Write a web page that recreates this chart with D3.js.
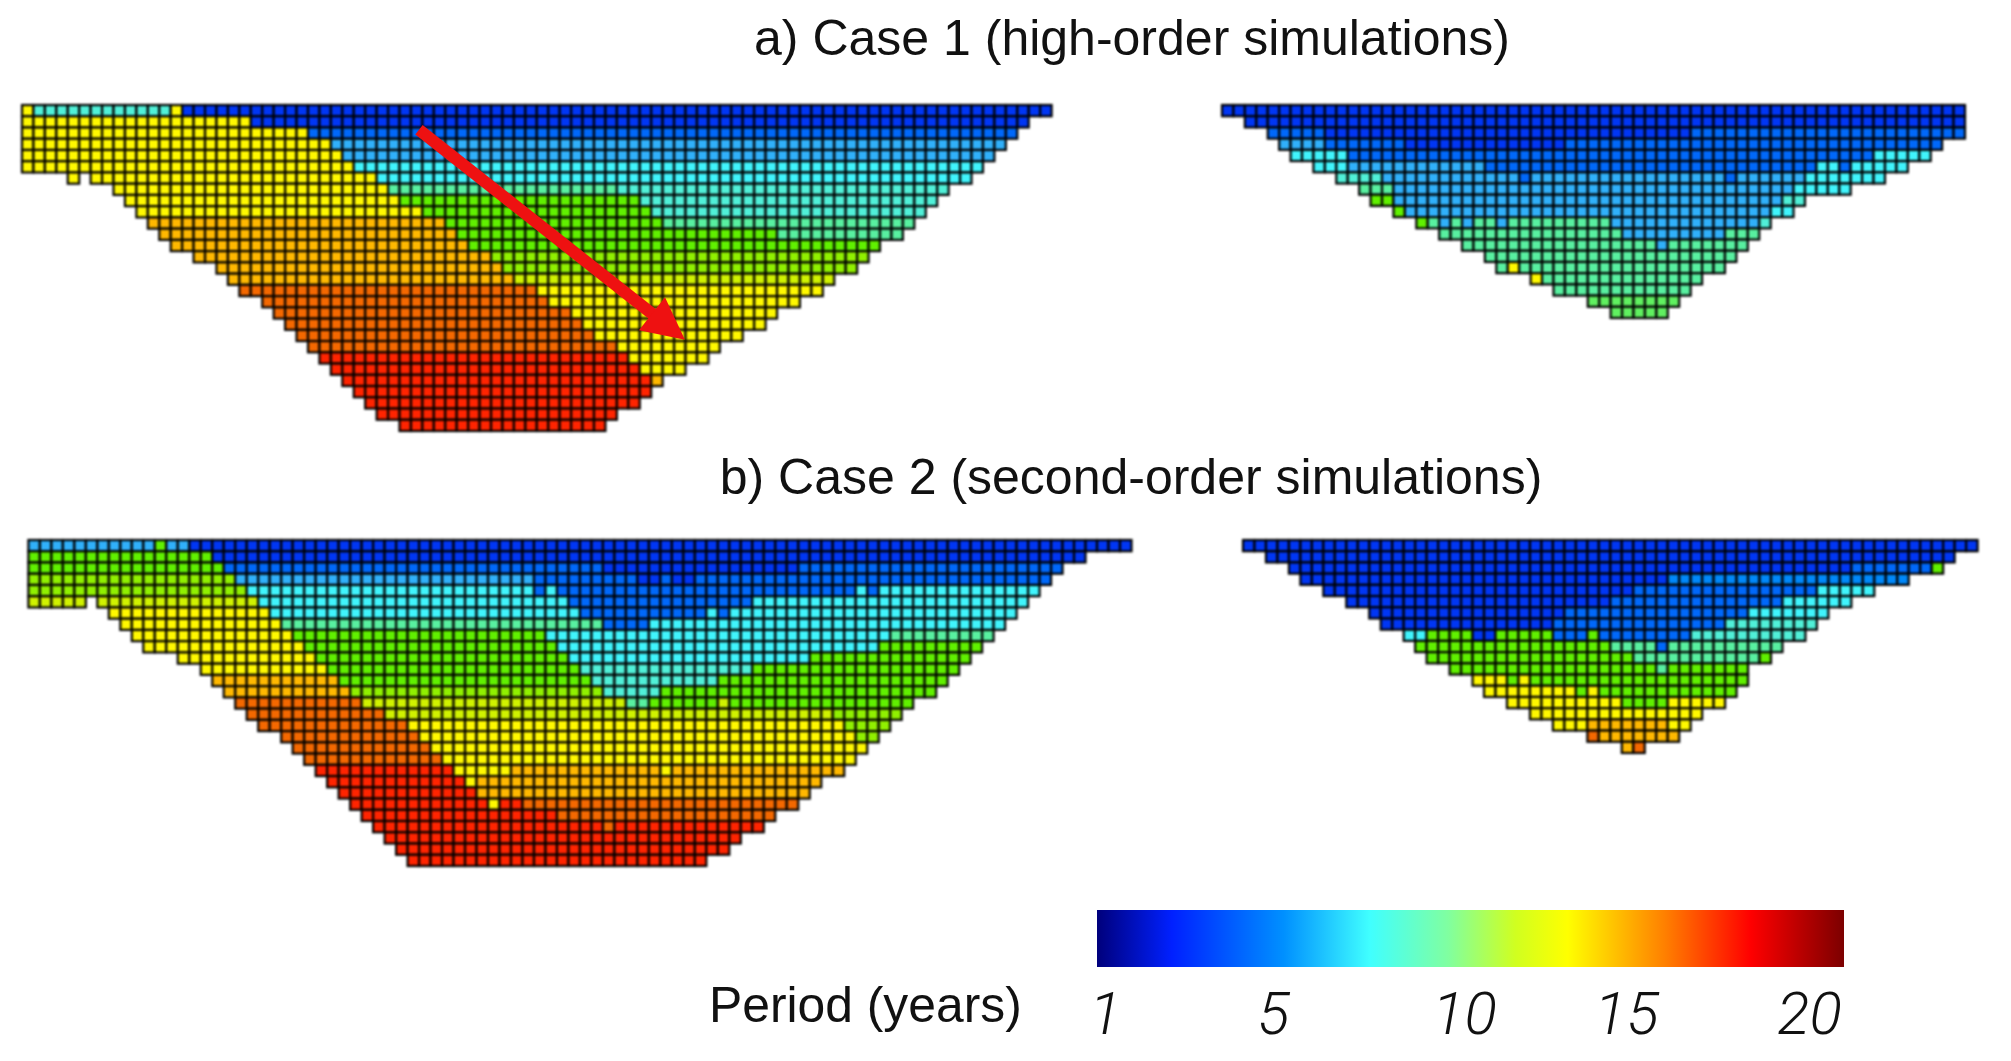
<!DOCTYPE html>
<meta charset="utf-8">
<head>
<title>Period (years)</title>
<script src="https://d3js.org/d3.v7.min.js"></script>
<style>
  html, body { margin: 0; background: #fff; }
  svg { display: block; }
  text { font-family: "Liberation Sans", sans-serif; fill: #111; }
  .cells { filter: blur(0.8px); }
  .soft { filter: blur(0.5px); }
</style>
</head>
<div id="chart"></div>
<script>
// period classes seen in the cells, and the colour each one is drawn with
var periods =      [3,         4,         5,         6,         7,         8,         9,         9.5,       10,        11,        12,        13,        14,        16,        18];
var periodColors = ["#0036f4", "#0068fa", "#0088fa", "#30b0fa", "#40f4fc", "#50f0d8", "#58f0a0", "#60f060", "#60f000", "#90f000", "#d0f200", "#fff800", "#ffb800", "#f46800", "#ff2400"];

// each row: first column, then period, end column, period, end column ... (period 0 = no cell)
var caseA_left = [
  [0, 13,1, 8,13, 13,14, 3,90],
  [0, 13,20, 3,88],
  [0, 13,25, 4,87],
  [0, 13,27, 6,86],
  [0, 13,28, 6,85],
  [0, 13,29, 7,84],
  [4, 13,5, 0,6, 13,31, 7,83],
  [8, 13,32, 9,52, 8,81],
  [9, 13,33, 10,54, 8,80],
  [10, 13,35, 10,55, 8,79],
  [11, 14,37, 10,56, 9,78],
  [12, 14,38, 10,66, 9,77],
  [13, 14,39, 10,75],
  [15, 14,41, 11,74],
  [17, 14,42, 11,73],
  [18, 14,43, 12,71],
  [19, 16,45, 13,70],
  [21, 16,46, 13,68],
  [22, 16,48, 13,66],
  [23, 16,49, 13,65],
  [24, 16,50, 13,63],
  [25, 16,52, 13,61],
  [26, 18,53, 13,60],
  [27, 18,54, 13,58],
  [28, 18,55, 14,56],
  [29, 18,55],
  [30, 18,54],
  [31, 18,52],
  [33, 18,51]
];
var caseA_right = [
  [0, 3,65],
  [2, 3,65],
  [4, 4,9, 3,41, 4,65],
  [5, 6,9, 4,16, 3,30, 4,63],
  [6, 7,11, 4,57, 7,62],
  [8, 7,11, 6,23, 4,52, 7,54, 4,55, 7,60],
  [10, 8,14, 6,26, 4,27, 6,44, 4,45, 6,51, 7,58],
  [12, 9,15, 6,50, 7,55],
  [13, 10,15, 6,49, 8,51],
  [15, 10,16, 6,48, 7,50],
  [17, 10,18, 9,19, 6,20, 9,21, 6,22, 9,24, 6,25, 9,34, 6,47, 8,48],
  [19, 9,35, 6,44, 9,47],
  [21, 9,38, 6,39, 9,46],
  [23, 9,45],
  [24, 9,25, 13,26, 9,44],
  [27, 13,28, 9,42],
  [29, 9,41],
  [32, 9.5,40],
  [34, 9.5,39]
];
var caseB_left = [
  [0, 6,11, 10,12, 6,14, 3,96],
  [0, 10,16, 3,92],
  [0, 10,17, 4,50, 3,67, 4,90],
  [0, 11,18, 6,44, 4,53, 3,55, 4,56, 3,58, 4,89],
  [0, 11,19, 7,44, 4,45, 7,46, 4,72, 7,73, 4,74, 7,88],
  [0, 12,5, 0,6, 12,20, 7,47, 4,63, 7,87],
  [7, 13,21, 7,48, 4,59, 7,60, 4,61, 7,86],
  [8, 13,22, 9,50, 4,54, 7,85],
  [9, 13,23, 10,45, 7,75, 9,84],
  [10, 13,24, 10,46, 7,74, 10,83],
  [13, 13,25, 10,47, 7,68, 10,82],
  [15, 13,26, 10,48, 8,63, 10,81],
  [16, 14,27, 10,49, 8,60, 10,80],
  [17, 14,28, 11,50, 8,55, 10,79],
  [18, 16,29, 12,52, 9,54, 10,60, 12,61, 10,77],
  [19, 16,31, 12,70, 11,76],
  [20, 16,33, 13,71, 11,75],
  [22, 16,34, 13,72, 11,74],
  [23, 16,35, 13,73],
  [24, 16,36, 13,72],
  [25, 18,37, 13,42, 14,55, 13,56, 14,71],
  [26, 18,38, 13,39, 14,69],
  [27, 18,39, 14,68],
  [28, 18,40, 13,41, 18,43, 16,67],
  [29, 18,46, 16,65],
  [30, 18,50, 16,51, 18,64],
  [31, 18,62],
  [32, 18,61],
  [33, 18,59]
];
var caseB_right = [
  [0, 3,64],
  [2, 3,62],
  [4, 3,53, 4,60, 10,61],
  [5, 3,37, 5,58],
  [7, 3,34, 4,50, 7,55],
  [9, 3,32, 4,47, 7,53],
  [11, 3,28, 4,44, 7,51],
  [12, 3,27, 4,42, 8,50],
  [14, 7,16, 10,20, 3,22, 10,27, 4,30, 10,31, 4,39, 8,49],
  [15, 10,32, 9,36, 4,37, 9,47],
  [16, 10,34, 9,45, 10,46],
  [18, 10,36, 9,37, 10,44],
  [20, 13,23, 10,24, 13,25, 10,44],
  [21, 13,29, 10,30, 13,31, 10,43],
  [23, 13,33, 10,37, 13,42],
  [25, 13,40],
  [27, 13,30, 14,37, 13,39],
  [30, 16,31, 14,38],
  [33, 14,34, 16,35]
];

var titles = ["a) Case 1 (high-order simulations)", "b) Case 2 (second-order simulations)"];

// colour bar
var barOffsets = [0, 0.1, 0.25, 0.365, 0.47, 0.56, 0.63, 0.76, 0.875, 1];
var barColors = ["#00007c", "#0020ff", "#0090ff", "#40ffff", "#80ffa0", "#d0ff20", "#ffff00", "#ff8000", "#ff0000", "#7c0000"];
var barTicks = [1, 5, 10, 15, 20];
var barLabel = "Period (years)";

// arrow over the first panel, in column / row units
var arrowFrom = [34.7, 2.2], arrowTo = [58.1, 21];

var width = 2011, height = 1061;

var svg = d3.select("#chart").append("svg")
  .attr("width", width)
  .attr("height", height);

var color = d3.scaleOrdinal().domain(periods).range(periodColors);

// panel placement
var panels = [
  {rows: caseA_left,  cols: 90, x: [22, 1051.6],   y: [105, 431]},
  {rows: caseA_right, cols: 65, x: [1222, 1965],   y: [105, 318]},
  {rows: caseB_left,  cols: 96, x: [28.4, 1131.5], y: [540, 866]},
  {rows: caseB_right, cols: 64, x: [1243, 1977.6], y: [540, 753]}
];

function rowCells(row, r) {
  var out = [], c = row[0];
  for (var i = 1; i < row.length; i += 2) {
    for (; c < row[i + 1]; c++) {
      if (row[i] > 0) out.push({col: c, row: r, period: row[i]});
    }
  }
  return out;
}

panels.forEach(function(p) {
  p.xs = d3.scaleLinear().domain([0, p.cols]).range(p.x);
  p.ys = d3.scaleLinear().domain([0, p.rows.length]).range(p.y);
  var cells = p.rows.map(rowCells).flat();

  svg.append("g").attr("class", "cells")
    .selectAll("rect")
    .data(cells)
    .enter()
    .append("rect")
      .attr("x", function(d) { return p.xs(d.col); })
      .attr("y", function(d) { return p.ys(d.row); })
      .attr("width", p.xs(1) - p.xs(0))
      .attr("height", p.ys(1) - p.ys(0))
      .style("fill", function(d) { return color(d.period); })
      .style("stroke", "#000")
      .style("stroke-width", 2.2);
});

// arrow: shaft stops short of the tip so the head stays pointed
var defs = svg.append("defs");
defs.append("marker")
    .attr("id", "head")
    .attr("markerUnits", "userSpaceOnUse")
    .attr("viewBox", "0 0 10 10")
    .attr("refX", 1).attr("refY", 5)
    .attr("markerWidth", 44).attr("markerHeight", 42)
    .attr("orient", "auto")
  .append("path")
    .attr("d", "M0,0L10,5L0,10Z")
    .style("fill", "#ee1111");

var pa = panels[0];
var ax1 = pa.xs(arrowFrom[0]), ay1 = pa.ys(arrowFrom[1]);
var ax2 = pa.xs(arrowTo[0]), ay2 = pa.ys(arrowTo[1]);
var alen = Math.hypot(ax2 - ax1, ay2 - ay1), short = 1 - 40 / alen;
svg.append("line")
    .attr("class", "soft")
    .attr("x1", ax1)
    .attr("y1", ay1)
    .attr("x2", ax1 + (ax2 - ax1) * short)
    .attr("y2", ay1 + (ay2 - ay1) * short)
    .attr("marker-end", "url(#head)")
    .style("stroke", "#ee1111")
    .style("stroke-width", 12);

// titles
svg.append("text").attr("class", "soft")
    .attr("x", 1132).attr("y", 55)
    .attr("text-anchor", "middle")
    .style("font-size", "50px")
    .text(titles[0]);
svg.append("text").attr("class", "soft")
    .attr("x", 1131).attr("y", 494)
    .attr("text-anchor", "middle")
    .style("font-size", "50px")
    .text(titles[1]);

// colour bar
var grad = defs.append("linearGradient").attr("id", "jet");
grad.selectAll("stop")
  .data(barOffsets)
  .enter()
  .append("stop")
    .attr("offset", function(d) { return d; })
    .attr("stop-color", function(d, i) { return barColors[i]; });

svg.append("rect")
    .attr("class", "soft")
    .attr("x", 1097).attr("y", 910)
    .attr("width", 747).attr("height", 57)
    .style("fill", "url(#jet)");

// labels under the bar are not evenly spaced in the original
var tickX = d3.scaleLinear().domain(barTicks).range([1105, 1273, 1464, 1626, 1809]);
var tickAxis = svg.append("g")
    .attr("class", "soft")
    .attr("transform", "translate(0,1034)")
    .call(d3.axisBottom(tickX).tickValues(barTicks).tickFormat(d3.format("d")).tickSize(0));
tickAxis.select(".domain").remove();
tickAxis.selectAll("text")
    .attr("y", 0).attr("dy", 0)
    .style("font-family", "Roboto, 'Liberation Sans', sans-serif")
    .style("font-style", "italic")
    .style("font-weight", 300)
    .style("font-size", "60px");

svg.append("text").attr("class", "soft")
    .attr("x", 709).attr("y", 1022)
    .style("font-size", "49.8px")
    .text(barLabel);
</script>
